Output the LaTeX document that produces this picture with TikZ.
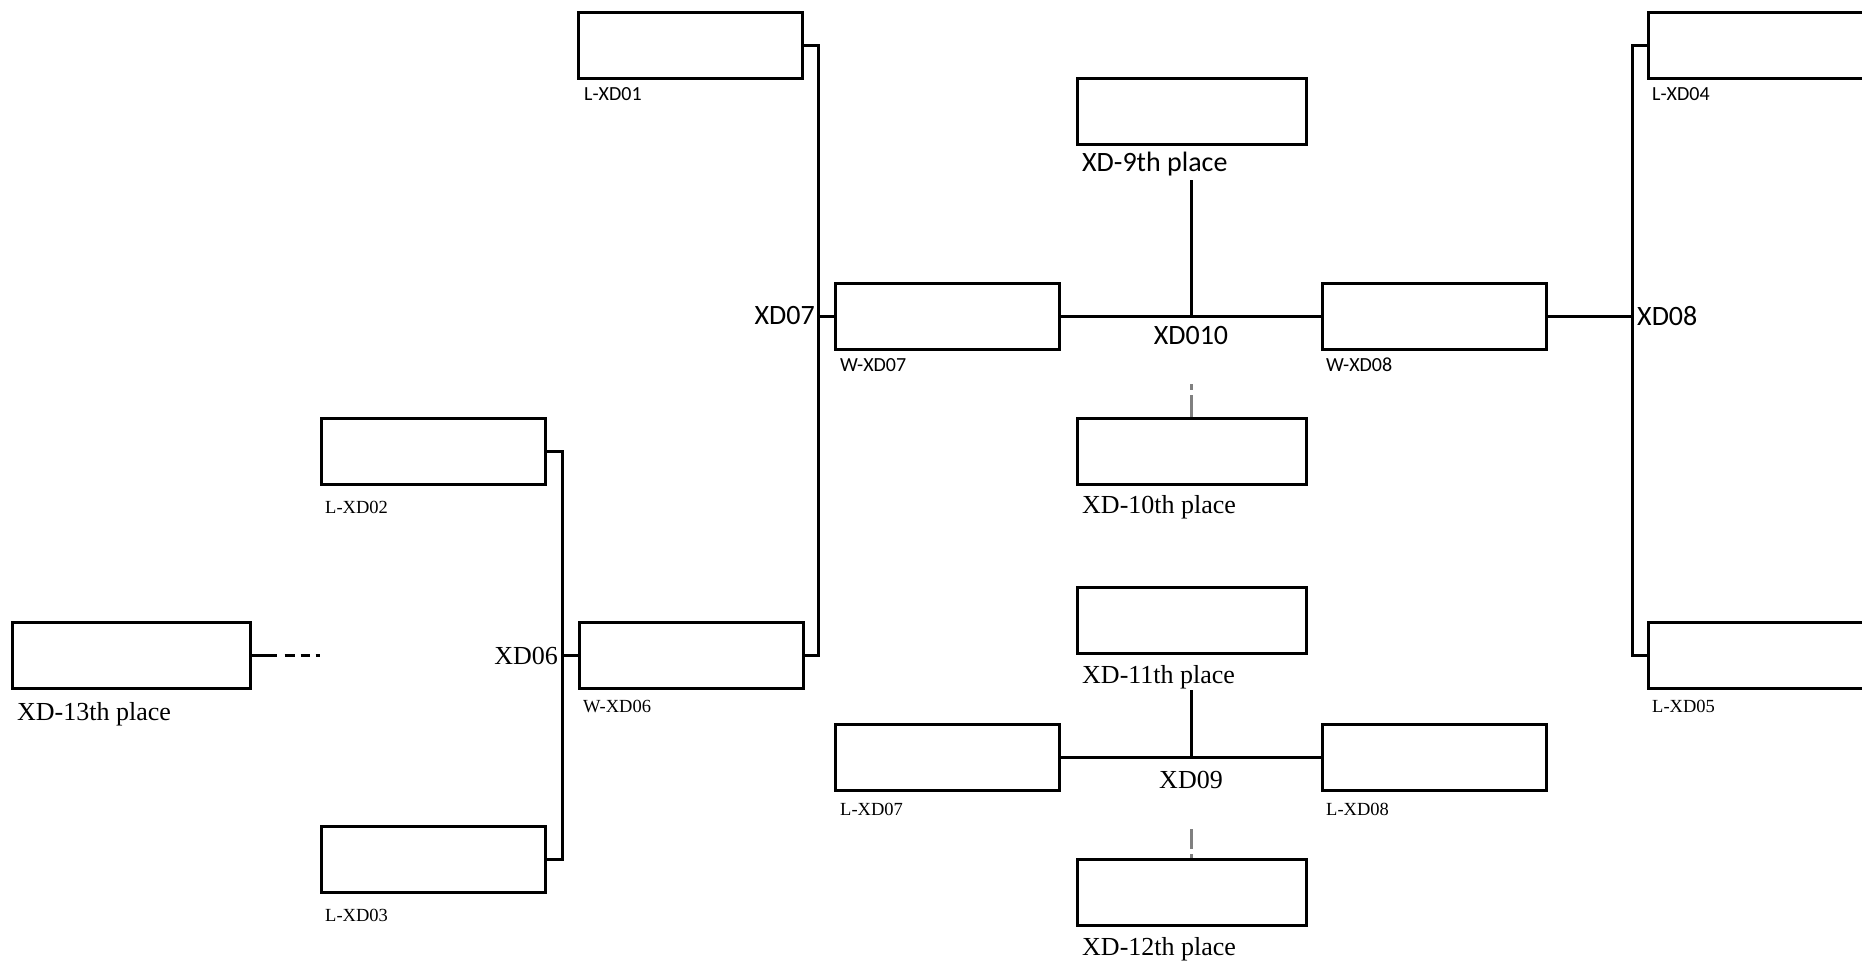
\documentclass[tikz,border=0pt]{standalone}
\usepackage{fontspec}
\newfontfamily\sansf{Carlito}
\newfontfamily\seriff{Liberation Serif}
\begin{document}
\begin{tikzpicture}[x=1pt,y=-1pt,
  box/.style={draw,line width=3pt,minimum width=224pt,minimum height=66pt,inner sep=0pt},
  widebox/.style={box,minimum width=229pt},
  xwidebox/.style={box,minimum width=238pt},
  conn/.style={line width=3pt},
  grayconn/.style={line width=2.7pt,draw=black!50},
  bigsans/.style={inner sep=0pt,font=\sansf\fontsize{28}{30}\selectfont},
  smallsans/.style={inner sep=0pt,font=\sansf\fontsize{20}{22}\selectfont},
  bigserif/.style={inner sep=0pt,font=\seriff\fontsize{26}{28}\selectfont},
  smallserif/.style={inner sep=0pt,font=\seriff\fontsize{18.5}{20}\selectfont}]
\useasboundingbox (0,0) rectangle (1862,962);
\fill[white] (0,0) rectangle (1862,962);
\clip (0,0) rectangle (1862,962);
% boxes
\node[box] (L01) at (690,45) {};
\node[box] (L04) at (1760,45) {};
\node[box] (W07) at (947.5,316) {};
\node[box] (W08) at (1434.5,316) {};
\node[widebox] (P9) at (1191.5,111.5) {};
\node[widebox] (P10) at (1191.5,451.5) {};
\node[box] (L02) at (433.5,451) {};
\node[box] (L03) at (433.5,859) {};
\node[box] (W06) at (691,655) {};
\node[xwidebox] (P13) at (131,655) {};
\node[box] (L05) at (1760,655) {};
\node[widebox] (P11) at (1191.5,620.5) {};
\node[box] (L07) at (947.5,757) {};
\node[box] (L08) at (1434.5,757) {};
\node[widebox] (P12) at (1191.5,892) {};
% labels under boxes
\node[smallsans,anchor=west] (tL01) at (584,94) {L-XD01};
\node[smallsans,anchor=west] (tL04) at (1652,94) {L-XD04};
\node[smallsans,anchor=west] (tW07) at (840,365) {W-XD07};
\node[smallsans,anchor=west] (tW08) at (1326,365) {W-XD08};
\node[bigsans,anchor=west] (tP9) at (1082,164) {XD-9th place};
\node[bigserif,anchor=west] (tP10) at (1082,507) {XD-10th place};
\node[smallserif,anchor=west] (tL02) at (325,507) {L-XD02};
\node[smallserif,anchor=west] (tL03) at (325,915) {L-XD03};
\node[smallserif,anchor=west] (tW06) at (583,706) {W-XD06};
\node[bigserif,anchor=west] (tP13) at (17,714) {XD-13th place};
\node[smallserif,anchor=west] (tL05) at (1652,706) {L-XD05};
\node[bigserif,anchor=west] (tP11) at (1082,677) {XD-11th place};
\node[smallserif,anchor=west] (tL07) at (840,809) {L-XD07};
\node[smallserif,anchor=west] (tL08) at (1326,809) {L-XD08};
\node[bigserif,anchor=west] (tP12) at (1082,949) {XD-12th place};
% match labels
\node[bigsans,anchor=east] (m07) at (815,316) {XD07};
\node[bigsans,anchor=west] (m08) at (1637,316) {XD08};
\node[bigsans] (m10) at (1191,336) {XD010};
\node[bigserif] (m09) at (1191,780) {XD09};
\node[bigserif,anchor=east] (m06) at (558,656) {XD06};
% junction coordinates
\coordinate (x07) at (818,316);
\coordinate (x06) at (562,655);
\coordinate (x08) at (1632,316);
\coordinate (j10) at (1191.5,316);
\coordinate (t10) at (1191.5,180);
\coordinate (g10) at (1191.5,384);
\coordinate (j09) at (1191.5,757);
\coordinate (t09) at (1191.5,690);
\coordinate (g09) at (1191.5,829);
\coordinate (d13) at (322,655);
% connectors
\draw[conn] (L01.east) -| (x07) |- (W06.east);
\draw[conn] (x07) -- (W07.west);
\draw[conn] (L02.east) -| (x06) |- (L03.east);
\draw[conn] (x06) -- (W06.west);
\draw[conn] (L04.west) -| (x08) |- (L05.west);
\draw[conn] (W08.east) -- (x08);
\draw[conn] (W07.east) -- (W08.west);
\draw[conn] (t10) -- (j10);
\draw[grayconn,dash pattern=on 6pt off 5pt on 40pt] (g10) -- (P10.north);
\draw[conn] (L07.east) -- (L08.west);
\draw[conn] (t09) -- (j09);
\draw[grayconn,dash pattern=on 20pt off 5pt on 40pt] (g09) -- (P12.north);
\draw[conn,dash pattern=on 25pt off 8pt on 10pt off 6pt on 9pt off 6pt on 4pt off 100pt] (P13.east) -- (d13);
\end{tikzpicture}
\end{document}
